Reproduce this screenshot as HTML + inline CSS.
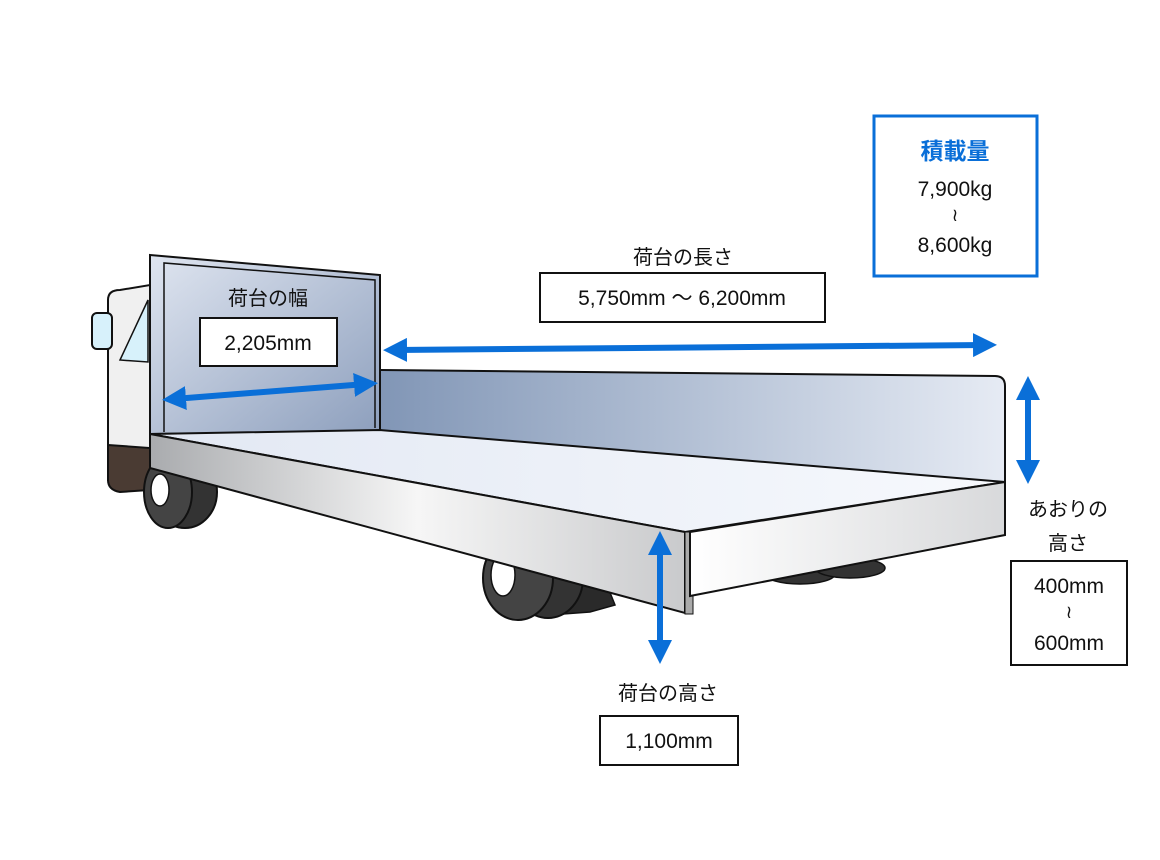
<!DOCTYPE html>
<html><head><meta charset="utf-8"><style>
html,body{margin:0;padding:0;background:#fff;width:1160px;height:860px;overflow:hidden}
svg{display:block}
text{font-family:"Liberation Sans","Noto Sans CJK JP",sans-serif;fill:#111}
</style></head><body>
<svg width="1160" height="860" viewBox="0 0 1160 860" xmlns="http://www.w3.org/2000/svg">
<defs>
<linearGradient id="hb" x1="0" y1="0" x2="1" y2="1"><stop offset="0" stop-color="#dfe5f0"/><stop offset="1" stop-color="#8d9fbd"/></linearGradient>
<linearGradient id="wall" x1="0" y1="0" x2="1" y2="0"><stop offset="0" stop-color="#8196b6"/><stop offset="1" stop-color="#e6ebf4"/></linearGradient>
<linearGradient id="floor" x1="0" y1="0" x2="1" y2="0"><stop offset="0" stop-color="#e2e8f3"/><stop offset="1" stop-color="#f7f9fd"/></linearGradient>
<linearGradient id="side" x1="0" y1="0" x2="1" y2="0"><stop offset="0" stop-color="#a9abae"/><stop offset="0.5" stop-color="#f6f6f6"/><stop offset="1" stop-color="#c9cacc"/></linearGradient>
<linearGradient id="rear" x1="0" y1="0" x2="1" y2="0"><stop offset="0" stop-color="#ffffff"/><stop offset="1" stop-color="#d8d9db"/></linearGradient>
<marker id="ah" markerWidth="4" markerHeight="4" refX="2" refY="2" orient="auto-start-reverse" markerUnits="strokeWidth"><path d="M0,0 L4,2 L0,4 z" fill="#0a6fd8"/></marker>
</defs>
<ellipse cx="800" cy="574" rx="35" ry="10" fill="#333" stroke="#111" stroke-width="1.5"/>
<ellipse cx="850" cy="568" rx="35" ry="10" fill="#333" stroke="#111" stroke-width="1.5"/>
<path d="M540,545 L595,555 L615,605 L590,612 L550,615 Z" fill="#2a2a2a" stroke="#111" stroke-width="1.5"/>
<ellipse cx="548" cy="578" rx="35" ry="40" fill="#333" stroke="#111" stroke-width="2"/>
<ellipse cx="518" cy="578" rx="35" ry="42" fill="#444" stroke="#111" stroke-width="2"/>
<ellipse cx="503" cy="575" rx="12" ry="21" fill="#fff" stroke="#111" stroke-width="1.5"/>
<path d="M108,300 Q108,290 120,290 L150,285 L150,480 L108,480 Z" fill="#f0f0f0" stroke="#111" stroke-width="2"/>
<path d="M120,360 L148,300 L148,362 Z" fill="#d7f1fb" stroke="#111" stroke-width="1.5"/>
<rect x="92" y="313" width="20" height="36" rx="5" fill="#d7f1fb" stroke="#111" stroke-width="2"/>
<path d="M108,445 L150,448 L150,490 L120,492 Q108,490 108,480 Z" fill="#4a3b33" stroke="#111" stroke-width="2"/>
<ellipse cx="185" cy="492" rx="32" ry="36" fill="#333" stroke="#111" stroke-width="2"/>
<ellipse cx="168" cy="492" rx="24" ry="36" fill="#444" stroke="#111" stroke-width="2"/>
<ellipse cx="160" cy="490" rx="9" ry="16" fill="#fff" stroke="#111" stroke-width="1.5"/>
<polygon points="150,255 380,275 380,432 150,434" fill="url(#hb)" stroke="#111" stroke-width="2"/>
<polyline points="164,432 164,263 375,280 375,428" fill="none" stroke="#111" stroke-width="1.5"/>
<path d="M380,370 L995,376 Q1005,376 1005,386 L1005,484 L380,432 Z" fill="url(#wall)" stroke="#111" stroke-width="2"/>
<polygon points="150,434 380,430 1005,482 685,532" fill="url(#floor)" stroke="#111" stroke-width="2"/>
<polygon points="150,434 685,532 685,613 150,468" fill="url(#side)" stroke="#111" stroke-width="2"/>
<rect x="685" y="532" width="8" height="82" fill="#aaa" stroke="#111" stroke-width="1"/>
<polygon points="690,532 1005,482 1005,535 690,596" fill="url(#rear)" stroke="#111" stroke-width="2"/>
<g stroke="#0a6fd8" stroke-width="6" fill="none">
<line x1="395" y1="350" x2="985" y2="345" marker-start="url(#ah)" marker-end="url(#ah)"/>
<line x1="174" y1="399" x2="366" y2="384" marker-start="url(#ah)" marker-end="url(#ah)"/>
<line x1="1028" y1="388" x2="1028" y2="472" marker-start="url(#ah)" marker-end="url(#ah)"/>
<line x1="660" y1="543" x2="660" y2="652" marker-start="url(#ah)" marker-end="url(#ah)"/>
</g>
<text x="268" y="305" font-size="20" text-anchor="middle">荷台の幅</text>
<rect x="200" y="318" width="137" height="48" fill="#fff" stroke="#111" stroke-width="2"/>
<text x="268" y="350" font-size="21" text-anchor="middle">2,205mm</text>
<text x="683" y="264" font-size="20" text-anchor="middle">荷台の長さ</text>
<rect x="540" y="273" width="285" height="49" fill="#fff" stroke="#111" stroke-width="2"/>
<text x="682" y="305" font-size="21" text-anchor="middle">5,750mm ～ 6,200mm</text>
<rect x="874" y="116" width="163" height="160" fill="#fff" stroke="#0a6fd8" stroke-width="3"/>
<text x="955" y="159" font-size="23" font-weight="bold" text-anchor="middle" style="fill:#0a6fd8">積載量</text>
<text x="955" y="196" font-size="21" text-anchor="middle">7,900kg</text>
<text x="955" y="221" font-size="18" text-anchor="middle">≀</text>
<text x="955" y="252" font-size="21" text-anchor="middle">8,600kg</text>
<text x="1068" y="516" font-size="20" text-anchor="middle">あおりの</text>
<text x="1068" y="550" font-size="20" text-anchor="middle">高さ</text>
<rect x="1011" y="561" width="116" height="104" fill="#fff" stroke="#111" stroke-width="2"/>
<text x="1069" y="593" font-size="21" text-anchor="middle">400mm</text>
<text x="1069" y="618" font-size="18" text-anchor="middle">≀</text>
<text x="1069" y="650" font-size="21" text-anchor="middle">600mm</text>
<text x="668" y="700" font-size="20" text-anchor="middle">荷台の高さ</text>
<rect x="600" y="716" width="138" height="49" fill="#fff" stroke="#111" stroke-width="2"/>
<text x="669" y="748" font-size="21" text-anchor="middle">1,100mm</text>
</svg>
</body></html>
